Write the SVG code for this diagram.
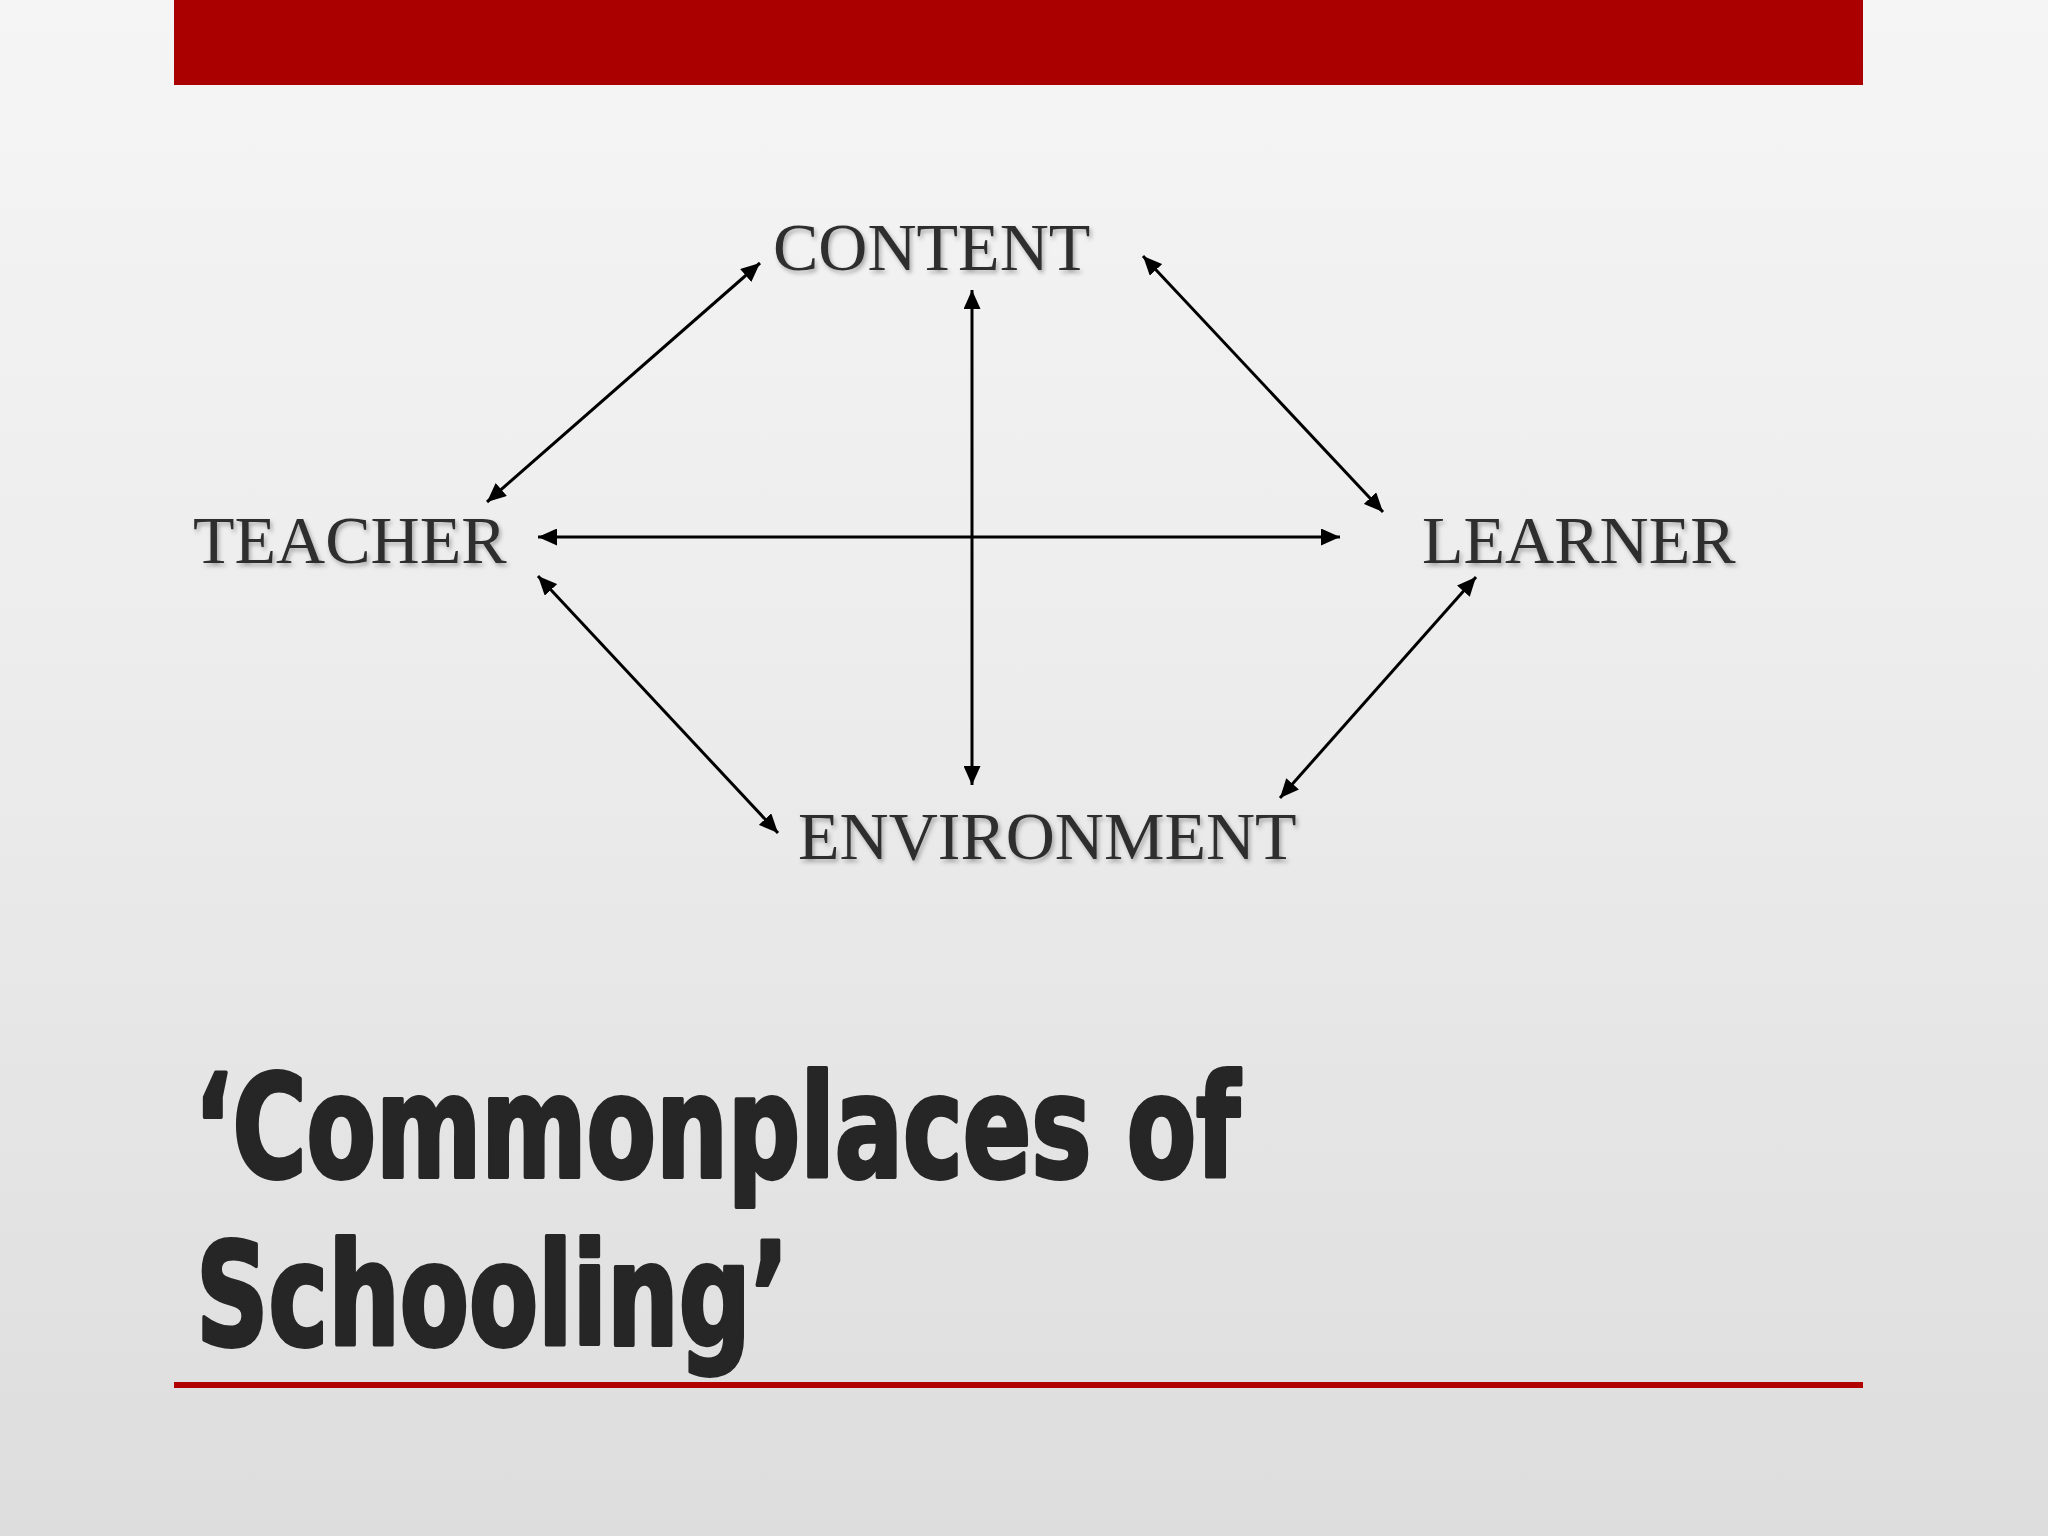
<svg xmlns="http://www.w3.org/2000/svg" width="2048" height="1536" viewBox="0 0 2048 1536">
<defs>
<linearGradient id="bg" x1="0" y1="0" x2="0" y2="1">
<stop offset="0" stop-color="#f5f5f5"/>
<stop offset="0.5" stop-color="#ebebeb"/>
<stop offset="1" stop-color="#dddddd"/>
</linearGradient>
<marker id="ah" viewBox="0 0 19 17" refX="19" refY="8.5" markerWidth="19" markerHeight="17" markerUnits="userSpaceOnUse" orient="auto-start-reverse">
<path d="M0,0 L19,8.5 L0,17 z" fill="#000"/>
</marker>
<filter id="sh" x="-5%" y="-20%" width="110%" height="140%">
<feDropShadow dx="2" dy="3" stdDeviation="2" flood-color="#000" flood-opacity="0.3"/>
</filter>
</defs>
<style>
.lbl{font-family:"Liberation Serif","Times New Roman",serif;font-size:68px;fill:#2e2e2e;filter:url(#sh)}
.con{stroke:#000;stroke-width:3;fill:none;marker-start:url(#ah);marker-end:url(#ah)}
.ttl{font-family:"Liberation Sans Narrow","Arial Narrow","DejaVu Sans Condensed","Liberation Sans",sans-serif;font-weight:bold;font-size:142px;fill:#262626;stroke:#262626;stroke-width:4;stroke-linejoin:round}
</style>
<rect width="2048" height="1536" fill="url(#bg)"/>
<rect id="topbar" x="174" y="0" width="1689" height="85" fill="#aa0000"/>
<rect id="bottomline" x="174" y="1382" width="1689" height="6" fill="#b00000"/>
<g id="connectors">
<line class="con" x1="487" y1="502" x2="760" y2="263"/>
<line class="con" x1="1143" y1="256" x2="1383" y2="512"/>
<line class="con" x1="538" y1="537" x2="1340" y2="537"/>
<line class="con" x1="972" y1="290" x2="972" y2="785"/>
<line class="con" x1="538" y1="576" x2="778" y2="833"/>
<line class="con" x1="1476" y1="577" x2="1280" y2="798"/>
</g>
<g id="content"><text class="lbl" x="773" y="270">CONTENT</text></g>
<g id="teacher"><text class="lbl" x="193" y="563">TEACHER</text></g>
<g id="learner"><text class="lbl" x="1422" y="563">LEARNER</text></g>
<g id="environment"><text class="lbl" x="798" y="859">ENVIRONMENT</text></g>
<g id="title">
<text class="ttl" x="194" y="1177" textLength="1046" lengthAdjust="spacingAndGlyphs">‘Commonplaces of</text>
<text class="ttl" x="196" y="1345" textLength="593" lengthAdjust="spacingAndGlyphs">Schooling’</text>
</g>
</svg>
